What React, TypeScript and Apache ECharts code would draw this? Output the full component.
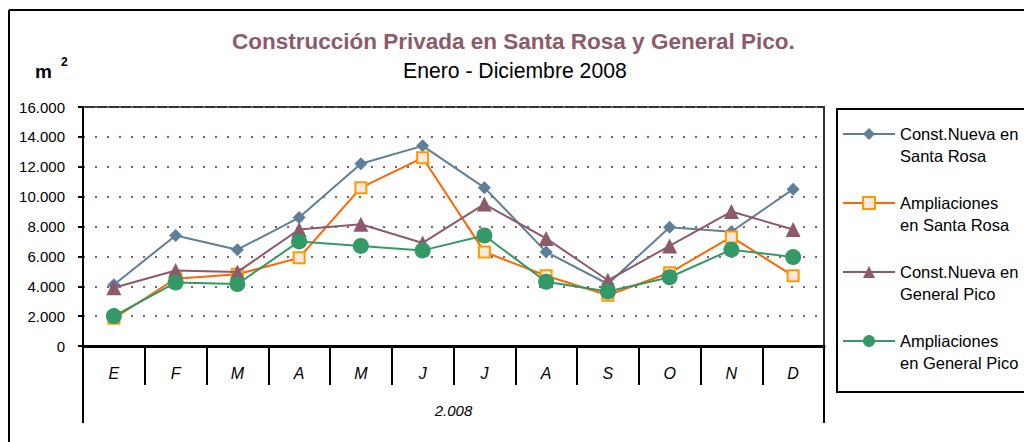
import React, { useEffect, useRef } from "react";
import * as echarts from "echarts";

const months = ["E", "F", "M", "A", "M", "J", "J", "A", "S", "O", "N", "D"];
const yearLabel = ["2.008"];
const nuevaSantaRosa = [4100, 7400, 6450, 8600, 12200, 13400, 10600, 6300, 4150, 7950, 7650, 10500];
const ampliSantaRosa = [1850, 4500, 4800, 5900, 10600, 12600, 6300, 4700, 3400, 4900, 7300, 4700];
const nuevaGeneralPico = [3900, 5050, 4950, 7800, 8150, 6900, 9500, 7200, 4400, 6700, 9000, 7800];
const ampliGeneralPico = [2000, 4250, 4150, 7000, 6700, 6400, 7400, 4300, 3650, 4600, 6450, 5950];
const seriesNames = [
  "Const.Nueva en\nSanta Rosa",
  "Ampliaciones\nen Santa Rosa",
  "Const.Nueva en\nGeneral Pico",
  "Ampliaciones\nen General Pico",
];

const FONT = "'Liberation Sans', Arial, sans-serif";

function fmt(v: number): string {
  return String(v).replace(/\B(?=(\d{3})+(?!\d))/g, ".");
}

export default function App() {
  const ref = useRef<HTMLDivElement>(null);
  useEffect(() => {
    if (!ref.current) return;
    const chart = echarts.init(ref.current, undefined, { renderer: "svg" });
    chart.setOption({
      animation: false,
      backgroundColor: "#ffffff",
      title: [
        {
          text: "Construcción Privada en Santa Rosa y General Pico.",
          left: 227,
          top: 25,
          textStyle: { fontFamily: FONT, fontSize: 22.5, fontWeight: "bold", color: "#8B5B6B" },
        },
        {
          text: "Enero - Diciembre 2008",
          left: 398,
          top: 55,
          textStyle: { fontFamily: FONT, fontSize: 21.2, fontWeight: "normal", color: "#000" },
        },
      ],
      graphic: [
        { type: "line", shape: { x1: 9, y1: 10, x2: 1030, y2: 10 }, style: { stroke: "#000", lineWidth: 2 } },
        { type: "line", shape: { x1: 9, y1: 10, x2: 9, y2: 450 }, style: { stroke: "#000", lineWidth: 2 } },
        { type: "rect", z: 0, shape: { x: 837, y: 109, width: 300, height: 283 }, style: { fill: "#fff", stroke: "#000", lineWidth: 2 } },
        { type: "text", x: 35, y: 62, style: { text: "m", fontFamily: FONT, fontSize: 19, fontWeight: "bold", fill: "#000" } },
        { type: "text", x: 61, y: 56, style: { text: "2", fontFamily: FONT, fontSize: 12, fontWeight: "bold", fill: "#000" } },
      ],
      legend: {
        orient: "vertical",
        left: 842,
        top: 101,
        padding: 0,
        itemWidth: 52,
        itemHeight: 15,
        itemGap: 3,
        data: seriesNames,
        formatter: (name: string) => "\n" + name,
        textStyle: { fontFamily: FONT, fontSize: 16.5, color: "#000", lineHeight: 22 },
      },
      grid: {
        left: 83,
        top: 107,
        width: 741,
        height: 239,
        show: true,
        borderColor: "#333",
        borderWidth: 2,
        containLabel: false,
      },
      xAxis: [
        {
          type: "category",
          data: months,
          position: "bottom",
          boundaryGap: true,
          axisLine: { show: true, lineStyle: { color: "#000", width: 3 } },
          axisTick: { show: true, interval: 0, length: 39, lineStyle: { color: "#000", width: 2 } },
          axisLabel: { interval: 0, margin: 19, fontFamily: FONT, fontSize: 16, fontStyle: "italic", color: "#000" },
          splitLine: { show: false },
        },
        {
          type: "category",
          data: yearLabel,
          position: "bottom",
          boundaryGap: true,
          axisLine: { show: false },
          axisTick: { show: true, length: 77, lineStyle: { color: "#000", width: 2 } },
          axisLabel: { margin: 57, fontFamily: FONT, fontSize: 15, fontStyle: "italic", color: "#000" },
          splitLine: { show: false },
        },
      ],
      yAxis: {
        type: "value",
        min: 0,
        max: 16000,
        interval: 2000,
        axisLine: { show: true, lineStyle: { color: "#000", width: 2 } },
        axisTick: { show: true, length: 5, lineStyle: { color: "#000", width: 2 } },
        axisLabel: { margin: 18, fontFamily: FONT, fontSize: 15, color: "#000", formatter: (v: number) => fmt(v) },
        splitLine: { show: true, lineStyle: { color: "#8B5A6B", width: 2, type: [2, 10] } },
      },
      series: [
        {
          name: seriesNames[0],
          type: "line",
          data: nuevaSantaRosa,
          symbol: "diamond",
          symbolSize: 13,
          lineStyle: { color: "#5E7F99", width: 2 },
          itemStyle: { color: "#5E7F99" },
          z: 2,
        },
        {
          name: seriesNames[1],
          type: "line",
          data: ampliSantaRosa,
          symbol: "rect",
          symbolSize: 11,
          lineStyle: { color: "#FF6600", width: 2 },
          itemStyle: { color: "#FDE9E0", borderColor: "#FF9900", borderWidth: 2 },
          z: 3,
        },
        {
          name: seriesNames[2],
          type: "line",
          data: nuevaGeneralPico,
          symbol: "triangle",
          symbolSize: 15,
          lineStyle: { color: "#8C5A6A", width: 2 },
          itemStyle: { color: "#8C5A6A" },
          z: 4,
        },
        {
          name: seriesNames[3],
          type: "line",
          data: ampliGeneralPico,
          symbol: "circle",
          symbolSize: 16,
          lineStyle: { color: "#339966", width: 2 },
          itemStyle: { color: "#339966" },
          z: 5,
        },
      ],
    });
    return () => chart.dispose();
  }, []);
  return <div ref={ref} style={{ position: "absolute", left: 0, top: 0, width: 1024, height: 442 }} />;
}
